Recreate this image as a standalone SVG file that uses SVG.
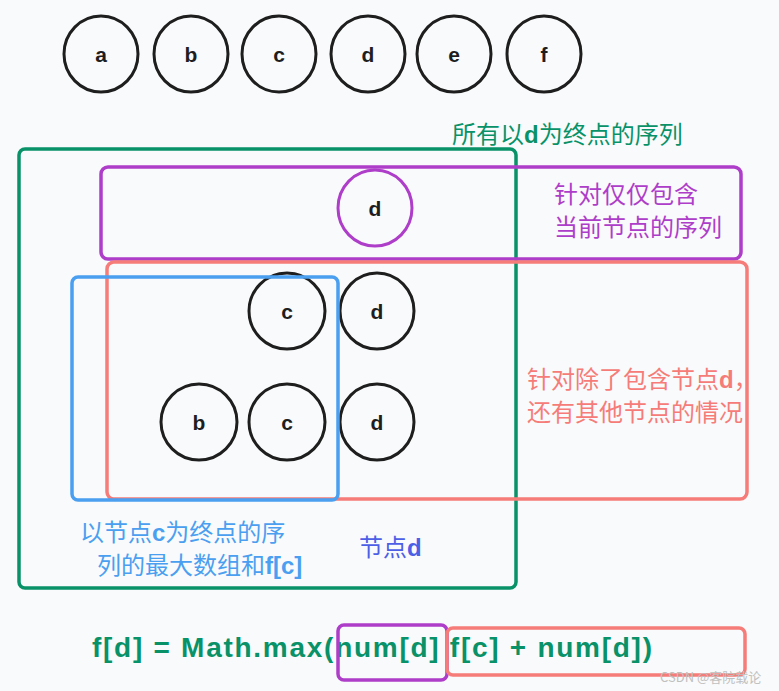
<svg xmlns="http://www.w3.org/2000/svg" width="779" height="691" viewBox="0 0 779 691">
<defs>
<style>
.bg{fill:#f9fafb}
.node{fill:none;stroke:#1e1e1e;stroke-width:3}
.lbl{font-family:"Liberation Sans","DejaVu Sans",sans-serif;font-weight:bold;font-size:21px;fill:#1e1e1e;text-anchor:middle}
.zh{font-family:"Noto Sans CJK SC","Noto Sans",sans-serif;font-size:24px}
.b{font-family:"Liberation Sans",sans-serif;font-weight:bold}
.box{fill:none;stroke-width:3.5}
</style>
</defs>
<rect class="bg" x="0" y="0" width="779" height="691"/>

<g id="top-nodes">
<g id="node-a"><ellipse class="node" cx="101" cy="54" rx="37" ry="38"/><text class="lbl" x="101" y="62">a</text></g>
<g id="node-b"><ellipse class="node" cx="191" cy="54" rx="37" ry="38"/><text class="lbl" x="191" y="62">b</text></g>
<g id="node-c"><ellipse class="node" cx="279" cy="54" rx="37" ry="38"/><text class="lbl" x="279" y="62">c</text></g>
<g id="node-d"><ellipse class="node" cx="368" cy="54" rx="37" ry="38"/><text class="lbl" x="368" y="62">d</text></g>
<g id="node-e"><ellipse class="node" cx="454" cy="54" rx="37" ry="38"/><text class="lbl" x="454" y="62">e</text></g>
<g id="node-f"><ellipse class="node" cx="544" cy="54" rx="37" ry="38"/><text class="lbl" x="544" y="62">f</text></g>
</g>

<g id="green-group">
<rect class="box" x="19" y="149" width="497" height="439" rx="6" stroke="#099268"/>
<text class="zh" x="452" y="143" fill="#099268">所有以<tspan class="b">d</tspan>为终点的序列</text>
</g>

<g id="purple-group">
<rect class="box" x="101" y="167" width="640" height="92" rx="7" stroke="#ae3ec9"/>
<ellipse cx="375" cy="208" rx="37" ry="38" fill="none" stroke="#ae3ec9" stroke-width="3"/>
<text class="lbl" x="375" y="216">d</text>
<text class="zh" x="554" y="203" fill="#ae3ec9">针对仅仅包含</text>
<text class="zh" x="554" y="236" fill="#ae3ec9">当前节点的序列</text>
</g>

<g id="red-group">
<rect class="box" x="107" y="262" width="640" height="237" rx="7" stroke="#f57c78"/>
<text class="zh" x="527" y="388" fill="#f57c78">针对除了包含节点<tspan class="b">d</tspan>，</text>
<text class="zh" x="527" y="421" fill="#f57c78">还有其他节点的情况</text>
</g>

<g id="row2">
<g id="node-c2"><ellipse class="node" cx="287" cy="311" rx="38" ry="38"/><text class="lbl" x="287" y="319">c</text></g>
<g id="node-d2"><ellipse class="node" cx="377" cy="311" rx="37" ry="38"/><text class="lbl" x="377" y="319">d</text></g>
</g>
<g id="row3">
<g id="node-b3"><ellipse class="node" cx="199" cy="422" rx="38" ry="38"/><text class="lbl" x="199" y="430">b</text></g>
<g id="node-c3"><ellipse class="node" cx="287" cy="422" rx="38" ry="38"/><text class="lbl" x="287" y="430">c</text></g>
<g id="node-d3"><ellipse class="node" cx="377" cy="422" rx="37" ry="38"/><text class="lbl" x="377" y="430">d</text></g>
</g>

<g id="blue-group">
<rect class="box" x="72" y="277" width="266" height="223" rx="6" stroke="#4a9ff0"/>
<text class="zh" x="80" y="541" fill="#4a9ff0">以节点<tspan class="b">c</tspan>为终点的序</text>
<text class="zh" x="97" y="574" fill="#4a9ff0">列的最大数组和<tspan class="b">f[c]</tspan></text>
</g>

<g id="label-node-d">
<text class="zh" x="359" y="556" fill="#4c5fe6">节点<tspan class="b">d</tspan></text>
</g>

<g id="formula">
<text x="92" y="657" font-family="Liberation Sans,sans-serif" font-weight="bold" font-size="28" fill="#099268" textLength="560" lengthAdjust="spacing">f[d] = Math.max(num[d] f[c] + num[d])</text>
<rect class="box" x="338" y="625" width="109" height="55" rx="6" stroke="#ae3ec9"/>
<rect class="box" x="447" y="628" width="298" height="47" rx="6" stroke="#f57c78"/>
</g>

<g id="connectors"></g>

<text x="660" y="682" font-family="Noto Sans CJK SC,Liberation Sans,sans-serif" font-size="13" fill="#c0c0c0">CSDN @客院载论</text>
</svg>
